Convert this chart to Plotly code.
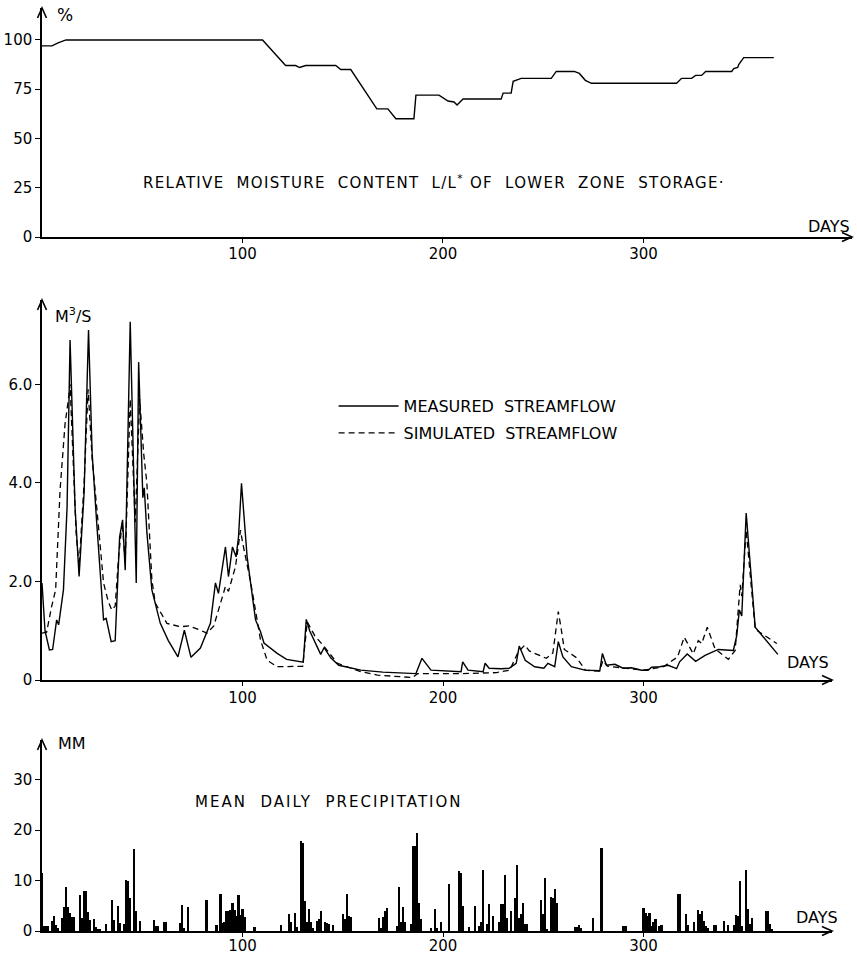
import plotly.graph_objects as go

# ---------------- data ----------------
moist_days = [0, 5, 8, 12, 110, 121.5, 126.5, 128.5, 131.5, 146.5, 149, 154, 167, 172.5,
              176.5, 185.5, 186.5, 198, 202.5, 205.5, 207, 210, 229, 230, 234, 235, 239,
              254, 256.5, 265.5, 268, 271, 274, 316.5, 319, 324, 326, 329, 331, 344, 345,
              347, 347.5, 350, 365]
moist_pct = [97, 97, 98.5, 100, 100, 87, 87, 86, 87, 87, 85, 85, 65, 65,
             60, 60, 72, 72, 69, 68.5, 67, 70, 70, 73, 73, 79, 80.5,
             80.5, 84, 84, 83, 79.5, 78, 78, 80.5, 80.5, 82, 82, 84, 84, 85.5,
             86, 87.5, 91, 91]

meas_days = [0, 1.5, 3.7, 5.3, 7.3, 8.3, 10.7, 12.5, 14, 16.5, 18.5, 21, 23.2, 25, 27.3, 29,
             30.7, 32, 34.5, 36.5, 38.7, 40.2, 41.5, 44, 47, 48.2, 50.3, 51, 52.3, 54.8, 59,
             63, 67.8, 71, 74.3, 79, 84, 86.5, 88, 91.5, 93, 95, 96.8, 98, 99.5, 102.3, 106.5,
             109, 110.7, 117.3, 122, 130.3, 131.8, 133.5, 137, 139, 140.7, 144, 148, 159, 170,
             186.5, 189.5, 194, 209, 209.8, 212.5, 220, 221, 223, 229, 233, 236.5, 238, 241,
             245.7, 250.3, 252.3, 255.7, 257.5, 259.8, 264, 270.7, 278.2, 279.5, 281.5, 285.7,
             289.8, 294, 299, 302.3, 304, 308, 312.3, 316.5, 318, 321.8, 326, 330.7, 337.3,
             344.8, 346.5, 347.8, 349, 351.2, 355.7, 367]
meas_flow = [1.97, 1.0, 0.61, 0.62, 1.22, 1.12, 1.83, 3.5, 6.9, 3.5, 2.1, 3.8, 7.1, 4.6, 3.18, 2.1,
             1.22, 1.25, 0.78, 0.8, 2.9, 3.25, 2.23, 7.27, 1.97, 6.45, 3.7, 3.9, 3.0, 1.83, 1.15,
             0.8, 0.47, 1.01, 0.46, 0.65, 1.15, 1.97, 1.76, 2.7, 2.1, 2.7, 2.5, 2.9, 3.99, 2.5, 1.22,
             0.98, 0.75, 0.54, 0.42, 0.36, 1.23, 1.0, 0.7, 0.52, 0.66, 0.45, 0.3, 0.2, 0.16,
             0.13, 0.44, 0.2, 0.17, 0.37, 0.2, 0.17, 0.34, 0.24, 0.23, 0.24, 0.34, 0.69, 0.4,
             0.27, 0.24, 0.34, 0.27, 0.78, 0.47, 0.27, 0.2, 0.19, 0.54, 0.3, 0.32,
             0.24, 0.25, 0.2, 0.2, 0.26, 0.27, 0.3, 0.23, 0.37, 0.53, 0.38, 0.5, 0.62,
             0.6, 0.9, 1.42, 1.3, 3.39, 1.07, 0.52]

sim_days = [0, 2.3, 4.8, 6.8, 9, 11.5, 13.2, 14, 15, 17, 18.5, 21, 23, 25, 27.3, 30.7, 33, 34.8,
            36.5, 38.2, 40, 41.5, 44, 46.5, 48.7, 50.7, 52.3, 54.8, 56.5, 62.3, 69, 73.3, 79,
            82.3, 85.7, 89, 91.5, 93, 96.5, 99, 100, 104, 109, 112.3, 117.3, 130, 132.3, 136,
            140.7, 147.3, 159, 167.3, 184.8, 187.3, 209, 226.7, 233.3, 237.5, 240.8, 243,
            251.5, 254.8, 256, 257.5, 259, 260.5, 266.7, 271, 278, 279.8, 282, 300, 310, 317,
            320.3, 324.8, 327.3, 329, 331.8, 335.7, 342.3, 345.7, 348.2, 349, 351.2, 355.7, 366.5]
sim_flow = [0.95, 0.97, 1.49, 1.83, 3.85, 5.2, 5.7, 6.0, 5.0, 3.0, 2.3, 4.0, 5.9, 4.5, 3.5, 1.97, 1.6, 1.42,
            1.5, 2.5, 3.2, 2.4, 5.7, 3.2, 5.7, 4.6, 4.0, 2.03, 1.56, 1.15, 1.08, 1.1, 1.01,
            0.95, 1.1, 1.56, 1.9, 1.8, 2.3, 3.04, 2.8, 2.0, 0.81, 0.4, 0.27, 0.28, 1.18, 0.9,
            0.68, 0.34, 0.17, 0.1, 0.05, 0.13, 0.13, 0.15, 0.2, 0.57, 0.71, 0.59,
            0.44, 0.55, 0.9, 1.39, 1.02, 0.62, 0.45, 0.2, 0.18, 0.4, 0.28, 0.2, 0.27, 0.47,
            0.87, 0.53, 0.8, 0.74, 1.07, 0.63, 0.42, 0.6, 1.93, 1.7, 3.04, 1.03, 0.74]

precip_days = [0, 1, 2, 3, 5, 6, 7, 8, 10, 11, 12, 13, 14, 15, 16, 19, 20, 21, 22, 23, 24, 26, 27,
               28, 29, 32, 35, 36, 38, 39, 41, 42, 43, 44, 46, 47, 49, 56, 57, 58, 61, 62, 69,
               70, 71, 73, 82, 87, 89, 90, 91, 92, 93, 94, 95, 96, 97, 98, 99, 100, 101, 106,
               119, 123, 124, 126, 127, 129, 130, 131, 132, 133, 134, 135, 137, 138, 139, 141,
               142, 143, 145, 150, 151, 152, 153, 154, 168, 169, 170, 171, 172, 177, 178, 179,
               180, 181, 184, 185, 186, 187, 188, 189, 194, 196, 197, 199, 203, 208, 209, 210,
               213, 216, 218, 219, 220, 222, 223, 225, 228, 229, 230, 231, 232, 234, 236, 237,
               238, 239, 240, 241, 242, 249, 250, 251, 252, 254, 255, 256, 257, 266, 267, 268,
               269, 275, 279, 290, 291, 300, 301, 302, 303, 304, 305, 306, 308, 309, 317, 318,
               321, 322, 325, 327, 328, 329, 330, 331, 332, 335, 336, 340, 342, 345, 346, 347,
               348, 349, 351, 352, 353, 354, 361, 362, 363, 364]
precip_mm = [11.5, 1.0, 0.9, 0.9, 1.9, 3.0, 1.2, 0.5, 2.5, 4.8, 8.7, 4.8, 3.6, 2.7, 2.7, 7.2, 2.5, 8.0, 8.0, 3.8, 2.2, 2.3, 0.7,
             0.3, 0.3, 1.4, 6.2, 2.2, 5.0, 1.5, 1.4, 10.1, 10.0, 6.5, 16.3, 4.0, 1.9, 2.2, 1.0, 0.9, 1.7, 1.7, 1.5,
             5.1, 0.5, 4.7, 6.2, 1.2, 7.4, 1.5, 1.7, 4.0, 4.0, 4.2, 5.5, 4.2, 3.0, 7.2, 3.2, 4.4, 2.8, 0.7,
             1.2, 3.3, 1.8, 3.5, 0.7, 17.9, 17.5, 6.0, 1.7, 4.4, 1.7, 0.5, 2.0, 2.3, 4.0, 1.7,
             1.5, 1.3, 1.1, 3.4, 2.3, 7.3, 3.0, 2.8, 2.5, 0.5, 2.7, 4.0, 4.6, 0.9, 8.8, 1.7,
             4.8, 1.7, 1.3, 16.9, 16.9, 19.4, 5.6, 2.3, 0.5, 4.4, 0.5, 1.7, 9.3, 12.0, 11.6, 5.0,
             0.7, 5.0, 1.0, 1.7, 12.1, 1.3, 5.3, 3.0, 1.7, 5.3, 5.3, 11.1, 2.6, 4.0, 6.6, 13.0,
             2.6, 3.3, 5.6, 1.3, 1.3, 6.2, 3.3, 10.6, 0.3, 6.8, 6.6, 8.3, 5.6, 0.7, 0.8, 1.2,
             0.5, 2.5, 16.4, 1.0, 1.0, 4.6, 3.6, 3.0, 3.5, 1.0, 1.7, 2.3, 0.9, 1.1, 7.4, 7.4,
             3.4, 1.1, 1.7, 4.2, 3.3, 4.0, 2.0, 0.9, 0.5, 1.1, 1.1, 2.0, 1.1, 1.1, 3.1, 3.0,
             9.9, 1.0, 12.1, 4.4, 1.3, 2.5, 4.0, 4.0, 1.3, 0.4]

moist_ticks = [0, 25, 50, 75, 100]
flow_ticks = [0, 2, 4, 6]
flow_tick_text = ["0", "2.0", "4.0", "6.0"]
precip_ticks = [0, 10, 20, 30]
day_ticks = [100, 200, 300]

# ---------------- figure ----------------
FONT = "DejaVu Sans"
BLACK = "black"
NB = "\u00a0"

TOP_RANGE = [0, 116.2]
MID_RANGE = [0, 7.71]
BOT_RANGE = [0, 37.9]
X_TOP = [0, 404]
X_LOW = [0, 394]

TOP_DOM = [0.7519, 1.0]
MID_DOM = [0.2719, 0.6836]
BOT_DOM = [0.0, 0.2069]
XTOP_DOM = [0.0, 1.0]
XLOW_DOM = [0.0, 0.9753]

fig = go.Figure()
fig.add_trace(go.Scatter(x=moist_days, y=moist_pct, mode="lines",
                         line=dict(color=BLACK, width=1.4),
                         xaxis="x", yaxis="y", showlegend=False, hoverinfo="skip"))
fig.add_trace(go.Scatter(x=meas_days, y=meas_flow, mode="lines",
                         name="MEASURED" + NB * 2 + "STREAMFLOW",
                         line=dict(color=BLACK, width=1.4),
                         xaxis="x2", yaxis="y2", legendgroup="m"))
fig.add_trace(go.Scatter(x=sim_days, y=sim_flow, mode="lines",
                         name="SIMULATED" + NB * 2 + "STREAMFLOW",
                         line=dict(color=BLACK, width=1.3, dash="6px,4px"),
                         xaxis="x2", yaxis="y2", legendgroup="s"))
fig.add_trace(go.Bar(x=precip_days, y=precip_mm, width=1.1,
                     marker=dict(color=BLACK, line=dict(width=0)),
                     xaxis="x3", yaxis="y3", showlegend=False))

tickfont = dict(family=FONT, size=15, color=BLACK)


def xaxis(domain, rng, anchor, standoff):
    return dict(domain=domain, range=rng, anchor=anchor, showline=True,
                linecolor=BLACK, linewidth=1.5, ticks="outside", ticklen=4,
                tickwidth=1.2, tickcolor=BLACK, tickvals=day_ticks,
                ticklabelstandoff=standoff,
                showgrid=False, zeroline=False, tickfont=tickfont,
                fixedrange=True, automargin=False)


def yaxis(domain, rng, anchor, vals, text=None):
    d = dict(domain=domain, range=rng, anchor=anchor, showline=True,
             linecolor=BLACK, linewidth=1.5, ticks="outside", ticklen=5,
             tickwidth=1.2, tickcolor=BLACK, tickvals=vals,
             showgrid=False, zeroline=False, tickfont=tickfont,
             fixedrange=True, automargin=False)
    if text:
        d["ticktext"] = text
    return d


fig.update_layout(
    width=857, height=957,
    margin=dict(l=42, r=5, t=8, b=26, autoexpand=False),
    paper_bgcolor="white", plot_bgcolor="white",
    font=dict(family=FONT, size=15, color=BLACK),
    bargap=0,
    xaxis=xaxis(XTOP_DOM, X_TOP, "y", -2),
    yaxis=yaxis(TOP_DOM, TOP_RANGE, "x", moist_ticks),
    xaxis2=xaxis(XLOW_DOM, X_LOW, "y2", -1),
    yaxis2=yaxis(MID_DOM, MID_RANGE, "x2", flow_ticks, flow_tick_text),
    xaxis3=xaxis(XLOW_DOM, X_LOW, "y3", -4),
    yaxis3=yaxis(BOT_DOM, BOT_RANGE, "x3", precip_ticks),
    legend=dict(x=0.36, y=0.554, xanchor="left", yanchor="middle",
                font=dict(family=FONT, size=16, color=BLACK),
                bgcolor="rgba(0,0,0,0)", itemwidth=60, tracegroupgap=3),
)

ann = []


def label(text, x, y, xr, yr, xanchor="left", size=16, spacing=None):
    if spacing:
        text = '<span style="letter-spacing:%spx">%s</span>' % (spacing, text)
    ann.append(dict(text=text, x=x, y=y, xref=xr, yref=yr, showarrow=False,
                    xanchor=xanchor, yanchor="middle",
                    font=dict(family=FONT, size=size, color=BLACK)))


shapes = []


def arrowhead(xa, ya, direction):
    # open "V" arrowhead (pixels) at the end of an axis line, in paper coordinates
    path = "M -10,-4.5 L 0,0 L -10,4.5" if direction == "right" else "M -4.5,-10 L 0,0 L 4.5,-10"
    shapes.append(dict(type="path", xref="paper", yref="paper", xsizemode="pixel",
                       ysizemode="pixel", xanchor=xa, yanchor=ya, path=path,
                       line=dict(color=BLACK, width=1.6), layer="above"))


for xdom, ydom in [(XTOP_DOM, TOP_DOM), (XLOW_DOM, MID_DOM), (XLOW_DOM, BOT_DOM)]:
    arrowhead(xdom[1], ydom[0], "right")
    arrowhead(xdom[0], ydom[1], "up")

# texts
label("%", 6.5, 112.5, "x", "y", size=17)
label("RELATIVE" + NB * 2 + "MOISTURE" + NB * 2 + "CONTENT" + NB * 2 + "L/L<sup>*</sup>" + NB +
      "OF" + NB * 2 + "LOWER" + NB * 2 + "ZONE" + NB * 2 + "STORAGE·", 49.5, 28, "x", "y",
      size=15, spacing=1.3)
label("DAYS", 1.0, 0.7636, "paper", "paper", xanchor="right")
label("M<sup>3</sup>/S", 5.5, 7.4, "x2", "y2")
label("DAYS", 0.974, 0.2907, "paper", "paper", xanchor="right")
label("MM", 7, 37.3, "x3", "y3")
label("MEAN" + NB * 2 + "DAILY" + NB * 2 + "PRECIPITATION", 75.5, 25.6, "x3", "y3",
      size=15, spacing=2)
label("DAYS", 0.985, 0.0141, "paper", "paper", xanchor="right")

fig.update_layout(annotations=ann, shapes=shapes)
fig.write_html("out.html", config={"displayModeBar": False},
               post_script="document.body.style.margin='0';")
